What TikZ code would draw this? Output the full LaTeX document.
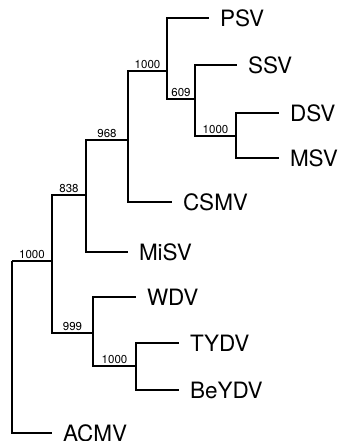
\documentclass[tikz,border=0pt]{standalone}
\usepackage{fontspec}
\setmainfont{TeX Gyre Heros}

\tikzset{
	branch/.style={line width=1.5pt},
	leaf/.style={anchor=west, inner xsep=11pt, inner ysep=0pt, outer sep=0pt,
		font=\fontsize{22.5}{24}\selectfont},
	boot/.style={pos=0.75, above, inner sep=1.5pt,
		font=\fontsize{11.5}{13}\selectfont}
}

\begin{document}
\begin{tikzpicture}[x=1pt, y=-1pt]
		\useasboundingbox (0,0) rectangle (341,441);
		
		% clades
		\coordinate (root) at (12,261);
		\coordinate (cA) at (52,261);
		\coordinate (cB) at (86,195);
		\coordinate (cC) at (128,140);
		\coordinate (cD) at (167,71);
		\coordinate (cE) at (195,99);
		\coordinate (cF) at (236,136);
		\coordinate (cG) at (93,333);
		\coordinate (cH) at (136,366);
		
		% leaves
		\node[leaf] (psv)   at (209,18)  {PSV};
		\node[leaf] (ssv)   at (237,65)  {SSV};
		\node[leaf] (dsv)   at (279,113) {DSV};
		\node[leaf] (msv)   at (279,158) {MSV};
		\node[leaf] (csmv)  at (172,202) {CSMV};
		\node[leaf] (misv)  at (128,252) {MiSV};
		\node[leaf] (wdv)   at (136,297) {WDV};
		\node[leaf] (tydv)  at (179,343) {TYDV};
		\node[leaf] (beydv) at (179,390) {BeYDV};
		\node[leaf] (acmv)  at (52,433)  {ACMV};
		
		\begin{scope}[branch]
		\draw (root) |- node[boot] {1000} (cA);
		\draw (root) |- (acmv.west);
		\draw (cA) |- node[boot] {838} (cB);
		\draw (cA) |- node[boot] {999} (cG);
		\draw (cB) |- node[boot] {968} (cC);
		\draw (cB) |- (misv.west);
		\draw (cC) |- node[boot] {1000} (cD);
		\draw (cC) |- (csmv.west);
		\draw (cD) |- (psv.west);
		\draw (cD) |- node[boot] {609} (cE);
		\draw (cE) |- (ssv.west);
		\draw (cE) |- node[boot] {1000} (cF);
		\draw (cF) |- (dsv.west);
		\draw (cF) |- (msv.west);
		\draw (cG) |- (wdv.west);
		\draw (cG) |- node[boot] {1000} (cH);
		\draw (cH) |- (tydv.west);
		\draw (cH) |- (beydv.west);
		\end{scope}
\end{tikzpicture}
\end{document}
